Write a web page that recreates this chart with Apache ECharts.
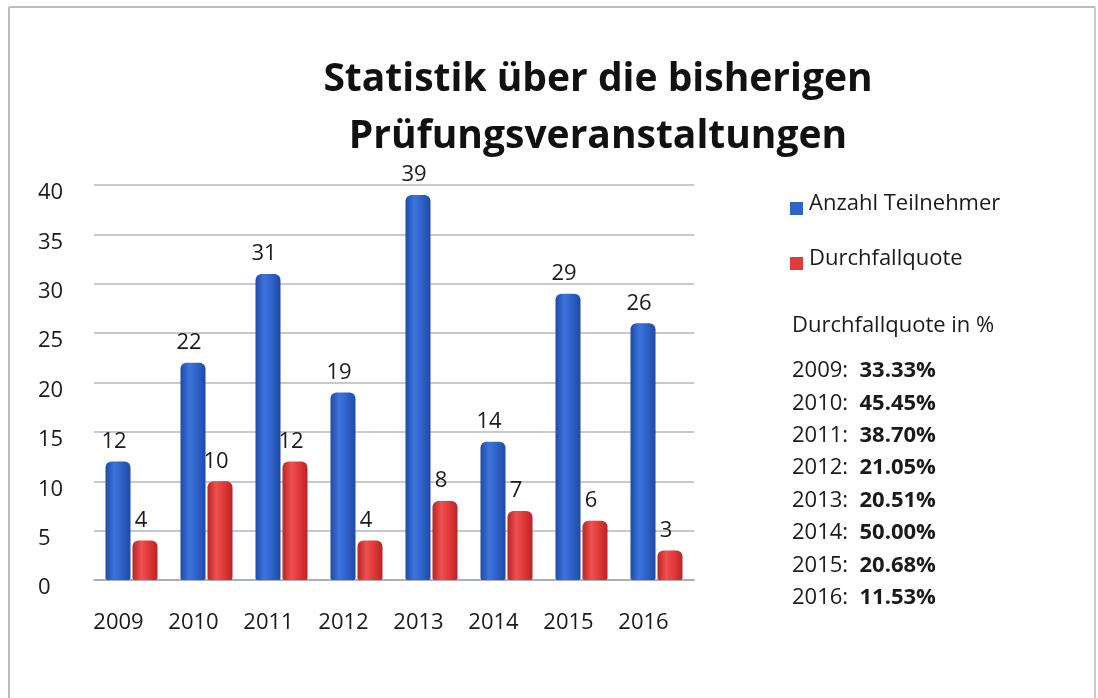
<!DOCTYPE html>
<html>
<head>
<meta charset="utf-8">
<script src="https://cdn.jsdelivr.net/npm/echarts@6/dist/echarts.min.js"></script>
<style>
  html, body { margin: 0; padding: 0; background: #fff; }
  #chart { width: 1098px; height: 698px; }
</style>
</head>
<body>
<div id="chart"></div>
<script>
// Daten
const years = ['2009', '2010', '2011', '2012', '2013', '2014', '2015', '2016']
const teilnehmer = [12, 22, 31, 19, 39, 14, 29, 26]
const durchgefallen = [4, 10, 12, 4, 8, 7, 6, 3]
const quoten = ['33.33%', '45.45%', '38.70%', '21.05%', '20.51%', '50.00%', '20.68%', '11.53%']
const yTicks = [0, 5, 10, 15, 20, 25, 30, 35, 40]

const font = '"Open Sans", "DejaVu Sans", sans-serif'

const chart = echarts.init(document.getElementById('chart'))

// Zylinder-Optik über horizontalen Verlauf
function cylinder(dark, mid, light) {
  return new echarts.graphic.LinearGradient(0, 0, 1, 0, [
    { offset: 0, color: dark },
    { offset: 0.35, color: light },
    { offset: 0.7, color: mid },
    { offset: 1, color: dark }
  ])
}

// Legende rechts + Quotenliste
const sideText = [
  { type: 'rect', left: 790, top: 202, shape: { width: 13, height: 13 }, style: { fill: '#2f63c9' } },
  { type: 'text', left: 809, top: 193, style: { text: 'Anzahl Teilnehmer', font: '22px ' + font, fill: '#1a1a1a' } },
  { type: 'rect', left: 790, top: 257, shape: { width: 13, height: 13 }, style: { fill: '#e23b3b' } },
  { type: 'text', left: 809, top: 248, style: { text: 'Durchfallquote', font: '22px ' + font, fill: '#1a1a1a' } },
  { type: 'text', left: 792, top: 315, style: { text: 'Durchfallquote in %', font: '22px ' + font, fill: '#1a1a1a' } }
]
years.forEach((y, i) => {
  sideText.push({
    type: 'text',
    left: 792,
    top: 360 + i * 32.4,
    style: {
      text: '{n|' + y + ':  }{b|' + quoten[i] + '}',
      rich: {
        n: { font: '22px ' + font, fill: '#1a1a1a' },
        b: { font: 'bold 22px ' + font, fill: '#1a1a1a' }
      }
    }
  })
})

// Rahmen
const frame = [
  { type: 'line', shape: { x1: 9, y1: 7, x2: 1095, y2: 7 }, style: { stroke: '#b8bcc4', lineWidth: 2 } },
  { type: 'line', shape: { x1: 9, y1: 7, x2: 9, y2: 698 }, style: { stroke: '#b8bcc4', lineWidth: 2 } },
  { type: 'line', shape: { x1: 1095, y1: 7, x2: 1095, y2: 698 }, style: { stroke: '#c8ccd2', lineWidth: 2 } }
]

const option = {
  backgroundColor: '#fff',
  animation: false,
  title: {
    text: 'Statistik über die bisherigen\nPrüfungsveranstaltungen',
    left: 593,
    top: 46,
    textAlign: 'center',
    textStyle: {
      fontFamily: font,
      fontWeight: 'bold',
      fontSize: 39,
      lineHeight: 57,
      color: '#111'
    }
  },
  grid: {
    left: 94,
    right: 1098 - 694,
    top: 185,
    bottom: 698 - 580
  },
  xAxis: {
    type: 'category',
    data: years,
    axisLine: { show: true, lineStyle: { color: '#a9b0bb', width: 2 } },
    axisTick: { show: false },
    axisLabel: {
      margin: 32,
      padding: [0, 26, 0, 0],
      fontFamily: font,
      fontSize: 22,
      color: '#1a1a1a'
    }
  },
  yAxis: {
    type: 'value',
    min: 0,
    max: 40,
    interval: 5,
    axisLine: { show: false },
    axisTick: { show: false },
    splitLine: { lineStyle: { color: '#c5c9d0', width: 2 } },
    axisLabel: {
      margin: 56,
      align: 'left',
      verticalAlign: 'top',
      lineHeight: 16,
      fontFamily: font,
      fontSize: 22,
      color: '#1a1a1a',
      formatter: v => (yTicks.includes(v) ? String(v) : '')
    }
  },
  series: [
    {
      name: 'Anzahl Teilnehmer',
      type: 'bar',
      data: teilnehmer,
      barWidth: 25,
      barGap: '8%',
      itemStyle: {
        color: cylinder('#1d4aa6', '#2c5fc4', '#3d74dc'),
        borderRadius: [6, 6, 2, 2]
      },
      label: {
        show: true,
        position: 'top',
        distance: 9,
        offset: [-4, 0],
        fontFamily: font,
        fontSize: 22,
        color: '#1a1a1a'
      }
    },
    {
      name: 'Durchfallquote',
      type: 'bar',
      data: durchgefallen,
      barWidth: 25,
      itemStyle: {
        color: cylinder('#b82424', '#dd3636', '#ef5050'),
        borderRadius: [6, 6, 2, 2]
      },
      label: {
        show: true,
        position: 'top',
        distance: 9,
        offset: [-4, 0],
        fontFamily: font,
        fontSize: 22,
        color: '#1a1a1a'
      }
    }
  ],
  graphic: frame.concat(sideText)
}

chart.setOption(option)
</script>
</body>
</html>
